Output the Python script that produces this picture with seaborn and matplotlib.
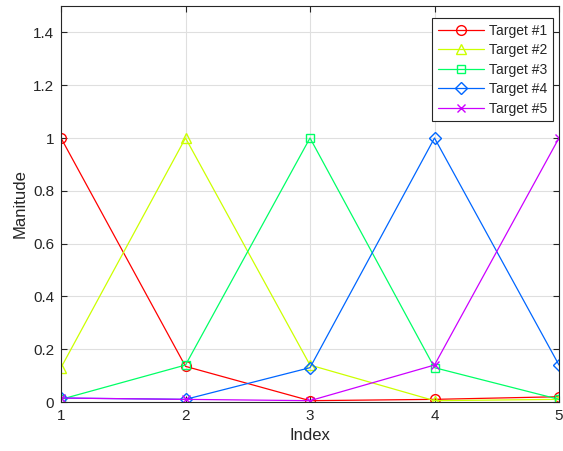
import matplotlib
matplotlib.use("Agg")
import matplotlib.pyplot as plt
import seaborn as sns
import pandas as pd
import numpy as np

index = [1, 2, 3, 4, 5]
target1 = [1.0, 0.135, 0.005, 0.01, 0.02]
target2 = [0.13, 1.0, 0.14, 0.005, 0.01]
target3 = [0.01, 0.14, 1.0, 0.13, 0.01]
target4 = [0.015, 0.01, 0.13, 1.0, 0.14]
target5 = [0.015, 0.01, 0.005, 0.14, 1.0]
labels = ["Target #1", "Target #2", "Target #3", "Target #4", "Target #5"]
series = [target1, target2, target3, target4, target5]
markers = ["o", "^", "s", "D", "x"]
msizes = [7, 7.5, 5.5, 6.5, 6]
colors = ["#ff0000", "#ccff00", "#00ff66", "#0066ff", "#cc00ff"]

sns.set_style("white")
plt.rcParams['font.family'] = ['Liberation Sans', 'DejaVu Sans']

fig = plt.figure(figsize=(5.63, 4.51), dpi=100)
ax = fig.add_axes([61/563, 1-402/451, (559-61)/563, (402-6)/451])

for lab, vals, m, ms, c in zip(labels, series, markers, msizes, colors):
    df = pd.DataFrame({"Index": index, "Manitude": vals})
    sns.lineplot(data=df, x="Index", y="Manitude", ax=ax, color=c, marker=m,
                 markersize=ms, markerfacecolor="none",
                 markeredgecolor=c, markeredgewidth=1, linewidth=0.9, label=lab)

ax.set_xlim(1, 5)
ax.set_ylim(0, 1.5)
ax.set_xticks([1, 2, 3, 4, 5])
ax.set_yticks([0, 0.2, 0.4, 0.6, 0.8, 1.0, 1.2, 1.4])
ax.set_yticklabels(["0", "0.2", "0.4", "0.6", "0.8", "1", "1.2", "1.4"])
ax.grid(True, color="#dfdfdf", linewidth=0.8)
ax.set_axisbelow(True)
for s in ax.spines.values():
    s.set_color("#262626")
    s.set_linewidth(0.8)
ax.tick_params(direction="in", length=4, labelsize=11, colors="#262626",
               top=True, right=True, bottom=True, left=True, pad=5)
ax.set_xlabel("Index", fontsize=12, color="#262626")
ax.set_ylabel("Manitude", fontsize=12, color="#262626")
leg = ax.legend(loc="upper right", bbox_to_anchor=(553/563, 1-18/451),
                bbox_transform=fig.transFigure, borderaxespad=0,
                fontsize=10, frameon=True, fancybox=False,
                edgecolor="#262626", framealpha=1, handlelength=3.3,
                handletextpad=0.4, borderpad=0.4, labelspacing=0.4)
leg.get_frame().set_linewidth(0.8)

fig.savefig("out.png", dpi=100)
